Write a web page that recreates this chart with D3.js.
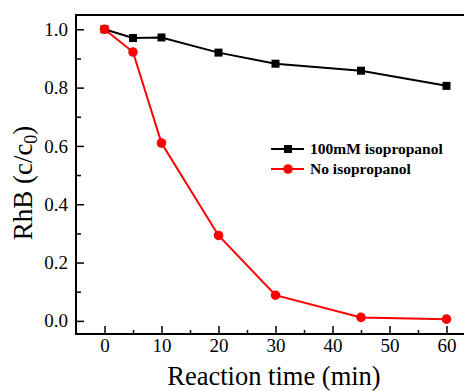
<!DOCTYPE html>
<html><head><meta charset="utf-8">
<script src="https://cdn.jsdelivr.net/npm/d3@7"></script>
<style>body{margin:0;background:#fff}svg{display:block}svg text{font-family:"Liberation Serif","Times New Roman",serif}</style>
</head><body>
<svg id="c" width="464" height="391"></svg>
<script>
const times = [0, 5, 10, 20, 30, 45, 60];
const withIso = [1.0, 0.970, 0.972, 0.920, 0.882, 0.858, 0.806];
const noIso = [1.0, 0.922, 0.610, 0.293, 0.088, 0.012, 0.006];
const seriesNames = ["100mM isopropanol", "No isopropanol"];
const xTicks = [0, 10, 20, 30, 40, 50, 60];
const xMinor = [5, 15, 25, 35, 45, 55];
const yTicks = [0.0, 0.2, 0.4, 0.6, 0.8, 1.0];
const yMinor = [0.1, 0.3, 0.5, 0.7, 0.9];

const svg = d3.select("#c");
const L = 76, R = 475, T = 15, B = 334;
const x = d3.scaleLinear().domain([-5, 65]).range([L, R]);
const y = d3.scaleLinear().domain([-0.045, 1.049]).range([B, T]);
const font = "'Liberation Serif','Times New Roman',serif";

// frame
svg.append("rect").attr("x", L).attr("y", T).attr("width", R - L).attr("height", B - T)
  .attr("fill", "none").attr("stroke", "#000").attr("stroke-width", 2);

// x axis
const xa = svg.append("g").attr("transform", `translate(0,${B})`)
  .call(d3.axisBottom(x).tickValues(xTicks).tickSize(-8).tickPadding(5).tickFormat(d3.format("d")));
xa.attr("font-family", font).attr("font-size", 19);
xa.select(".domain").remove();
xa.selectAll("line").attr("stroke-width", 1.5);
xa.selectAll("text").style("font-family", font).style("font-size", "19px").attr("fill", "#000");
const xm = svg.append("g").attr("transform", `translate(0,${B})`)
  .call(d3.axisBottom(x).tickValues(xMinor).tickSize(-4).tickFormat(""));
xm.select(".domain").remove();
xm.selectAll("line").attr("stroke-width", 1.5);

// y axis
const ya = svg.append("g").attr("transform", `translate(${L},0)`)
  .call(d3.axisLeft(y).tickValues(yTicks).tickSize(-8).tickPadding(8).tickFormat(d3.format(".1f")));
ya.attr("font-family", font).attr("font-size", 19);
ya.select(".domain").remove();
ya.selectAll("line").attr("stroke-width", 1.5);
ya.selectAll("text").style("font-family", font).style("font-size", "19px").attr("fill", "#000");
const ym = svg.append("g").attr("transform", `translate(${L},0)`)
  .call(d3.axisLeft(y).tickValues(yMinor).tickSize(-5).tickFormat(""));
ym.select(".domain").remove();
ym.selectAll("line").attr("stroke-width", 1.5);

// titles
svg.append("text").attr("x", 274).attr("y", 385).attr("text-anchor", "middle")
  .attr("font-family", font).attr("font-size", 26.5).text("Reaction time (min)");
const yt = svg.append("text").attr("transform", `translate(32,183) rotate(-90)`)
  .attr("text-anchor", "middle").attr("font-family", font).attr("font-size", 27);
yt.append("tspan").text("RhB (c/c");
yt.append("tspan").attr("font-size", 18).attr("dy", 5).text("0");
yt.append("tspan").attr("dy", -5).text(")");

// lines
const line = d3.line().x((d, i) => x(times[i])).y(d => y(d));
const series = [
  {vals: withIso, color: "#000", shape: "square"},
  {vals: noIso, color: "#ff0000", shape: "circle"}
];
series.forEach(s => {
  svg.append("path").datum(s.vals).attr("d", line).attr("fill", "none")
    .attr("stroke", s.color).attr("stroke-width", 2);
});
series.forEach(s => {
  const g = svg.append("g");
  s.vals.forEach((v, i) => {
    if (s.shape === "square") {
      g.append("rect").attr("x", x(times[i]) - 4).attr("y", y(v) - 4).attr("width", 8).attr("height", 8).attr("fill", s.color);
    } else {
      g.append("circle").attr("cx", x(times[i])).attr("cy", y(v)).attr("r", 4.8).attr("fill", s.color);
    }
  });
});

// legend
const legY = [149, 169];
series.forEach((s, i) => {
  const g = svg.append("g");
  g.append("line").attr("x1", 271).attr("x2", 304).attr("y1", legY[i]).attr("y2", legY[i])
    .attr("stroke", s.color).attr("stroke-width", 2);
  if (s.shape === "square") g.append("rect").attr("x", 284).attr("y", legY[i] - 4).attr("width", 8).attr("height", 8).attr("fill", s.color);
  else g.append("circle").attr("cx", 288).attr("cy", legY[i]).attr("r", 4.8).attr("fill", s.color);
  g.append("text").attr("x", 310).attr("y", legY[i] + 5).attr("font-family", font)
    .attr("font-size", 15.5).attr("font-weight", "bold").text(seriesNames[i]);
});
</script>
</body></html>
